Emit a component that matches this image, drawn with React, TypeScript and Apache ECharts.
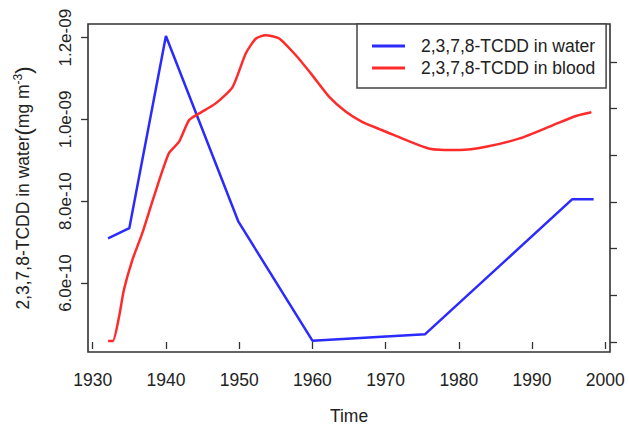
import { useEffect, useRef } from "react";
import * as echarts from "echarts";

// Year ticks on the time axis
const yearTicks = [1930, 1940, 1950, 1960, 1970, 1980, 1990, 2000];

// 2,3,7,8-TCDD in water (mg m^-3), left axis
const waterYears = [1932.1, 1935.0, 1940.0, 1949.9, 1960.0, 1975.4, 1995.5, 1998.4];
const waterValues = [7.09e-10, 7.34e-10, 1.204e-9, 7.5e-10, 4.59e-10, 4.75e-10, 8.05e-10, 8.05e-10];
const waterTicks = [6e-10, 8e-10, 1e-9, 1.2e-9];

// 2,3,7,8-TCDD in blood, right axis (unlabelled scale)
const bloodYears = [
  1932.1, 1932.75, 1933.6, 1934.25, 1935.4, 1936.75, 1938.35, 1940.4, 1941.8, 1943.15,
  1944.5, 1946.8, 1949.1, 1950.9, 1952.3, 1953.6, 1955.46, 1957.74, 1960.0, 1962.3,
  1964.58, 1966.85, 1969.14, 1971.0, 1976.0, 1980.1, 1983.7, 1988.3, 1992.8,
  1996.0, 1998.1,
];
const bloodValues = [
  0.02, 0.02, 0.54, 1.11, 1.75, 2.32, 3.11, 4.04, 4.29, 4.75,
  4.89, 5.11, 5.46, 6.18, 6.5, 6.57, 6.5, 6.14, 5.71, 5.25,
  4.93, 4.71, 4.56, 4.44, 4.14, 4.11, 4.18, 4.36, 4.64,
  4.84, 4.92,
];
const bloodTicks = [0, 1, 2, 3, 4, 5, 6];

const FONT = "Liberation Sans, Arial, sans-serif";
const INK = "#222";
const FRAME = "#333";

function sci(v: number): string {
  const [m, e] = v.toExponential(1).split("e");
  const neg = e.startsWith("-");
  const digits = e.replace(/^[-+]/, "").padStart(2, "0");
  return `${m}e${neg ? "-" : ""}${digits}`;
}

export default function App() {
  const ref = useRef<HTMLDivElement>(null);

  useEffect(() => {
    if (!ref.current) return;
    const chart = echarts.init(ref.current, undefined, { renderer: "svg" });

    const water = waterYears.map((y, i) => [y, waterValues[i]]);
    const blood = bloodYears.map((y, i) => [y, bloodValues[i]]);

    chart.setOption({
      animation: false,
      backgroundColor: "#fff",
      textStyle: { fontFamily: FONT },
      grid: {
        left: 88,
        right: 19,
        top: 24,
        bottom: 81,
        show: true,
        borderColor: FRAME,
        borderWidth: 1.6,
        backgroundColor: "transparent",
      },
      legend: {
        orient: "vertical",
        left: 357,
        top: 24,
        padding: [12, 11, 10, 15],
        itemGap: 2,
        itemWidth: 33,
        itemHeight: 3,
        icon: "rect",
        backgroundColor: "#fff",
        borderColor: "#444",
        borderWidth: 1.5,
        borderRadius: 0,
        textStyle: {
          fontFamily: FONT,
          fontSize: 17.5,
          color: INK,
          lineHeight: 20,
          padding: [0, 0, 0, 11],
        },
        data: ["2,3,7,8-TCDD in water", "2,3,7,8-TCDD in blood"],
      },
      xAxis: {
        type: "value",
        min: 1929.36,
        max: 2000.64,
        name: "Time",
        nameLocation: "middle",
        nameGap: 55,
        nameTextStyle: { fontFamily: FONT, fontSize: 17.5, color: INK },
        axisLine: { show: false },
        splitLine: { show: false },
        axisTick: {
          show: true,
          inside: false,
          length: 7,
          customValues: yearTicks,
          lineStyle: { color: FRAME, width: 1.3 },
        },
        axisLabel: {
          customValues: yearTicks,
          margin: 19,
          fontFamily: FONT,
          fontSize: 17.5,
          color: INK,
          formatter: (v: number) => String(Math.round(v)),
        },
      },
      yAxis: [
        {
          type: "value",
          position: "left",
          min: 4.313e-10,
          max: 1.2335e-9,
          axisLine: { show: false },
          splitLine: { show: false },
          axisTick: {
            show: true,
            length: 7,
            customValues: waterTicks,
            lineStyle: { color: FRAME, width: 1.3 },
          },
          axisLabel: {
            customValues: waterTicks,
            rotate: 90,
            margin: 14,
            fontFamily: FONT,
            fontSize: 17,
            color: INK,
            formatter: (v: number) => sci(v),
          },
        },
        {
          type: "value",
          position: "right",
          min: -0.214,
          max: 6.81,
          axisLine: { show: false },
          splitLine: { show: false },
          axisTick: {
            show: true,
            length: 7,
            customValues: bloodTicks,
            lineStyle: { color: FRAME, width: 1.3 },
          },
          axisLabel: { show: false },
        },
      ],
      graphic: [
        {
          type: "text",
          x: 23,
          y: 188,
          rotation: Math.PI / 2,
          style: {
            text: "{a|2,3,7,8-TCDD in water}{p|(}{a|mg m}{s|-3}{p|)}",
            align: "center",
            verticalAlign: "middle",
            fill: INK,
            rich: {
              a: { fontFamily: FONT, fontSize: 17.5, fill: INK },
              p: { fontFamily: FONT, fontSize: 22, fill: INK },
              s: { fontFamily: FONT, fontSize: 12, fill: INK, verticalAlign: "top" },
            },
          },
        },
      ],
      series: [
        {
          name: "2,3,7,8-TCDD in water",
          type: "line",
          yAxisIndex: 0,
          data: water,
          showSymbol: false,
          symbol: "none",
          lineStyle: { color: "#2b2bff", width: 2.5 },
          itemStyle: { color: "#2b2bff" },
        },
        {
          name: "2,3,7,8-TCDD in blood",
          type: "line",
          yAxisIndex: 1,
          data: blood,
          showSymbol: false,
          symbol: "none",
          smooth: 0.2,
          lineStyle: { color: "#ff2b2b", width: 2.5 },
          itemStyle: { color: "#ff2b2b" },
        },
      ],
    });

    return () => chart.dispose();
  }, []);

  return (
    <div
      ref={ref}
      style={{ position: "fixed", left: 0, top: 0, width: 629, height: 433 }}
    />
  );
}
